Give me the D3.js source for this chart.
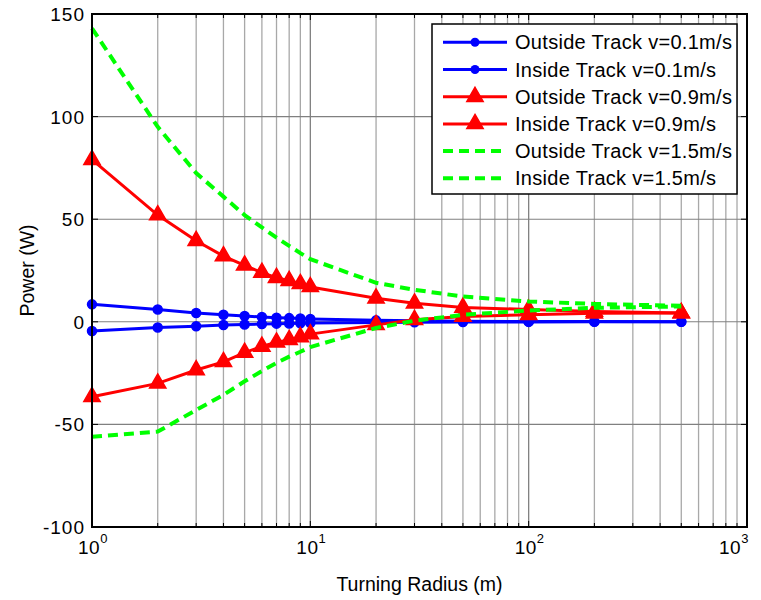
<!DOCTYPE html>
<html>
<head>
	<meta charset="utf-8">
	<script src="https://d3js.org/d3.v7.min.js"></script>
	<style type="text/css">
		body { margin: 0; background-color: #ffffff; }
		svg text { font-family: 'Liberation Sans', Arial, sans-serif; fill: #000; }
	</style>
</head>
<body>
	<script type="text/javascript">

		// turning radius (m)
		var radius = [1, 2, 3, 4, 5, 6, 7, 8, 9, 10, 20, 30, 50, 100, 200, 500];

		var outside01 = [8.5, 6, 4.3, 3.4, 2.8, 2.3, 2, 1.8, 1.6, 1.4, 0.7, 0.5, 0.3, 0.15, 0.1, 0.05];
		var inside01 = [-4.5, -2.8, -2.2, -1.6, -1.3, -1.1, -0.9, -0.8, -0.7, -0.6, -0.3, -0.2, -0.1, -0.05, 0, 0];
		var outside09 = [79, 52, 39.5, 32, 27.5, 24, 21.5, 20, 18.5, 17, 11.5, 9, 7, 6, 5, 4.3];
		var inside09 = [-36.5, -30, -23.5, -19.5, -15, -12, -10, -8.8, -7.4, -6, -1.5, 1, 2.6, 3.4, 4.2, 4.3];
		var outside15 = [143, 95, 72.5, 61, 52, 46, 41, 37, 33.5, 30.5, 19, 15.6, 12.3, 9.9, 8.7, 7.8];
		var inside15 = [-56, -53.5, -43, -35.6, -29, -24, -20, -17, -14.6, -12.3, -3, 0.5, 3.4, 5.5, 6.8, 7.5];

		var yTicks = [-100, -50, 0, 50, 100, 150];
		var xTicks = [1, 10, 100, 1000];

		var series = [
			{ name: 'Outside Track v=0.1m/s', values: outside01, color: '#0000ff', marker: 'circle', dash: null },
			{ name: 'Inside Track v=0.1m/s', values: inside01, color: '#0000ff', marker: 'circle', dash: null },
			{ name: 'Outside Track v=0.9m/s', values: outside09, color: '#ff0000', marker: 'triangle', dash: null },
			{ name: 'Inside Track v=0.9m/s', values: inside09, color: '#ff0000', marker: 'triangle', dash: null },
			{ name: 'Outside Track v=1.5m/s', values: outside15, color: '#00ff00', marker: null, dash: '10,6' },
			{ name: 'Inside Track v=1.5m/s', values: inside15, color: '#00ff00', marker: null, dash: '10,6' }
		];

		var w = 761;
		var h = 600;
		var margin = { left: 92, right: 14, top: 14, bottom: 73 };

		var svg = d3.select('body')
			.append('svg')
			.attr('width', w)
			.attr('height', h);

		var x = d3.scaleLog()
			.domain([1, 1000])
			.range([margin.left, w - margin.right]);

		var y = d3.scaleLinear()
			.domain([-100, 150])
			.range([h - margin.bottom, margin.top]);

		// minor decade values for grid
		var minor = [];
		[1, 10, 100].forEach(function(d){
			for (var k = 2; k <= 9; k++) minor.push(d * k);
		});

		var grid = svg.append('g');

		grid.selectAll('line.vminor')
			.data(minor)
			.enter()
			.append('line')
			.attr('x1', function(d){ return x(d); })
			.attr('x2', function(d){ return x(d); })
			.attr('y1', y(150))
			.attr('y2', y(-100))
			.attr('stroke', '#a8a8a8')
			.attr('stroke-width', 1.3);

		grid.selectAll('line.vmajor')
			.data(xTicks)
			.enter()
			.append('line')
			.attr('x1', function(d){ return x(d); })
			.attr('x2', function(d){ return x(d); })
			.attr('y1', y(150))
			.attr('y2', y(-100))
			.attr('stroke', '#808080')
			.attr('stroke-width', 1.3);

		grid.selectAll('line.h')
			.data(yTicks)
			.enter()
			.append('line')
			.attr('x1', x(1))
			.attr('x2', x(1000))
			.attr('y1', function(d){ return y(d); })
			.attr('y2', function(d){ return y(d); })
			.attr('stroke', '#808080')
			.attr('stroke-width', 1.1);

		// data lines
		var line = d3.line()
			.x(function(d, i){ return x(radius[i]); })
			.y(function(d){ return y(d); });

		var tri = d3.symbol().type(d3.symbolTriangle).size(115);

		series.forEach(function(s){
			var g = svg.append('g');

			g.append('path')
				.datum(s.values)
				.attr('d', line)
				.attr('fill', 'none')
				.attr('stroke', s.color)
				.attr('stroke-width', s.dash ? 4 : 3)
				.attr('stroke-dasharray', s.dash);

			if (s.marker == 'circle') {
				g.selectAll('circle')
					.data(s.values)
					.enter()
					.append('circle')
					.attr('cx', function(d, i){ return x(radius[i]); })
					.attr('cy', function(d){ return y(d); })
					.attr('r', 4.5)
					.attr('fill', s.color)
					.attr('stroke', s.color)
					.attr('stroke-width', 1.5);
			} else if (s.marker == 'triangle') {
				g.selectAll('path.m')
					.data(s.values)
					.enter()
					.append('path')
					.attr('d', tri)
					.attr('transform', function(d, i){
						return 'translate(' + x(radius[i]) + ',' + y(d) + ')';
					})
					.attr('fill', s.color)
					.attr('stroke', s.color)
					.attr('stroke-width', 1.5);
			}
		});

		// axes box and ticks
		var axes = svg.append('g');

		axes.append('rect')
			.attr('x', x(1))
			.attr('y', y(150))
			.attr('width', x(1000) - x(1))
			.attr('height', y(-100) - y(150))
			.attr('fill', 'none')
			.attr('stroke', '#000')
			.attr('stroke-width', 2);

		var allX = xTicks.concat(minor);
		allX.forEach(function(d){
			var len = xTicks.indexOf(d) >= 0 ? 6 : 4;
			axes.append('line')
				.attr('x1', x(d)).attr('x2', x(d))
				.attr('y1', y(-100)).attr('y2', y(-100) - len)
				.attr('stroke', '#000');
			axes.append('line')
				.attr('x1', x(d)).attr('x2', x(d))
				.attr('y1', y(150)).attr('y2', y(150) + len)
				.attr('stroke', '#000');
		});

		yTicks.forEach(function(d){
			axes.append('line')
				.attr('x1', x(1)).attr('x2', x(1) + 6)
				.attr('y1', y(d)).attr('y2', y(d))
				.attr('stroke', '#000');
			axes.append('line')
				.attr('x1', x(1000)).attr('x2', x(1000) - 6)
				.attr('y1', y(d)).attr('y2', y(d))
				.attr('stroke', '#000');
		});

		// tick labels
		axes.selectAll('text.ylab')
			.data(yTicks)
			.enter()
			.append('text')
			.attr('x', x(1) - 7)
			.attr('y', function(d){ return y(d) + 7; })
			.attr('text-anchor', 'end')
			.attr('font-size', '19px')
			.attr('letter-spacing', '1px')
			.text(function(d){ return d; });

		// last label pulled in so it stays inside the figure, like MATLAB does
		var xl = axes.selectAll('text.xlab')
			.data(xTicks)
			.enter()
			.append('text')
			.attr('x', function(d){ return x(d) - (d == 1000 ? 28 : 14); })
			.attr('y', y(-100) + 27)
			.attr('font-size', '19px')
			.attr('letter-spacing', '0.5px');
		xl.append('tspan').text('10');
		xl.append('tspan')
			.attr('dy', -11)
			.attr('font-size', '13px')
			.text(function(d){ return Math.round(Math.log10(d)); });

		svg.append('text')
			.attr('x', (x(1) + x(1000)) / 2)
			.attr('y', 591)
			.attr('text-anchor', 'middle')
			.attr('font-size', '19.5px')
			.text('Turning Radius (m)');

		svg.append('text')
			.attr('transform', 'translate(34,' + ((y(150) + y(-100)) / 2) + ') rotate(-90)')
			.attr('text-anchor', 'middle')
			.attr('font-size', '19.5px')
			.text('Power (W)');

		// legend
		var legend = svg.append('g').attr('transform', 'translate(432,24)');

		legend.append('rect')
			.attr('width', 305)
			.attr('height', 170)
			.attr('fill', '#fff')
			.attr('stroke', '#000')
			.attr('stroke-width', 1.5);

		var rows = legend.selectAll('g.row')
			.data(series)
			.enter()
			.append('g')
			.attr('transform', function(d, i){ return 'translate(0,' + (18.3 + i * 27.2) + ')'; });

		rows.append('line')
			.attr('x1', 11).attr('x2', 75)
			.attr('stroke', function(d){ return d.color; })
			.attr('stroke-width', function(d){ return d.dash ? 4 : 3; })
			.attr('stroke-dasharray', function(d){ return d.dash; });

		rows.filter(function(d){ return d.marker == 'circle'; })
			.append('circle')
			.attr('cx', 43)
			.attr('r', 4.5)
			.attr('fill', function(d){ return d.color; });

		rows.filter(function(d){ return d.marker == 'triangle'; })
			.append('path')
			.attr('d', tri)
			.attr('transform', 'translate(43,0)')
			.attr('fill', function(d){ return d.color; })
			.attr('stroke', function(d){ return d.color; })
			.attr('stroke-width', 1.5);

		rows.append('text')
			.attr('x', 83)
			.attr('y', 7)
			.attr('font-size', '20px')
			.attr('letter-spacing', '0.3px')
			.text(function(d){ return d.name; });

	</script>
</body>
</html>
